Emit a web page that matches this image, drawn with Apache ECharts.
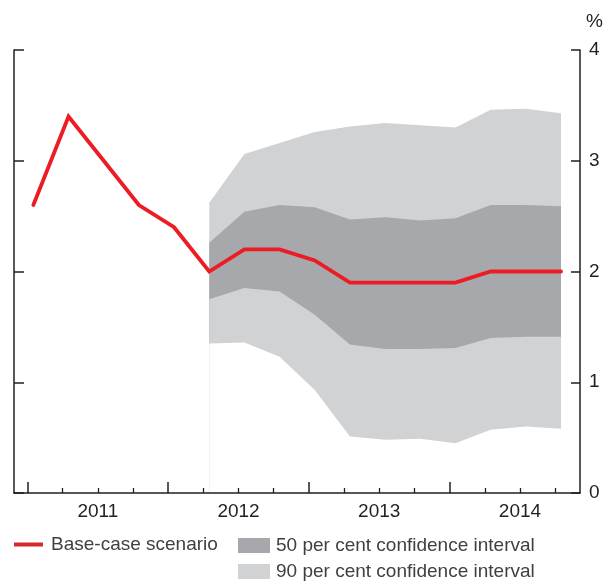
<!DOCTYPE html>
<html>
<head>
<meta charset="utf-8">
<script src="https://cdn.jsdelivr.net/npm/echarts@6/dist/echarts.min.js"></script>
<style>
  html, body { margin: 0; padding: 0; background: #fff; }
  #chart { width: 608px; height: 586px; }
</style>
</head>
<body>
<div id="chart"></div>
<script>
// Quarterly observations, 2011Q1 to 2014Q4
var periods = ['2011Q1','2011Q2','2011Q3','2011Q4','2012Q1','2012Q2','2012Q3','2012Q4',
               '2013Q1','2013Q2','2013Q3','2013Q4','2014Q1','2014Q2','2014Q3','2014Q4'];
var baseCase = [2.6, 3.4, 3.0, 2.6, 2.4, 2.0, 2.2, 2.2, 2.1, 1.9, 1.9, 1.9, 1.9, 2.0, 2.0, 2.0];

// Forecast intervals start in 2012Q2
var bandPeriods = ['2012Q2','2012Q3','2012Q4','2013Q1','2013Q2','2013Q3','2013Q4',
                   '2014Q1','2014Q2','2014Q3','2014Q4'];
var upper90 = [2.62, 3.06, 3.16, 3.26, 3.31, 3.34, 3.32, 3.30, 3.46, 3.47, 3.43];
var upper50 = [2.26, 2.54, 2.60, 2.58, 2.47, 2.49, 2.46, 2.48, 2.60, 2.60, 2.59];
var lower50 = [1.75, 1.85, 1.82, 1.61, 1.34, 1.30, 1.30, 1.31, 1.40, 1.41, 1.41];
var lower90 = [1.35, 1.36, 1.23, 0.93, 0.51, 0.48, 0.49, 0.45, 0.57, 0.60, 0.58];

var years = ['2011', '2012', '2013', '2014'];
var yTicks = [0, 1, 2, 3, 4];

// x axis is measured in months from the start of 2011; each quarter is
// plotted at the middle of its first month
function monthPos(p) {
  var y = parseInt(p.slice(0, 4), 10) - 2011;
  var q = parseInt(p.slice(5), 10) - 1;
  return y * 12 + q * 3 + 0.5;
}
function pairs(ps, vals) {
  return ps.map(function (p, i) { return [monthPos(p), vals[i]]; });
}

var quarterStarts = [];
for (var m = 0; m < 48; m += 3) quarterStarts.push(m);
var yearStarts = quarterStarts.filter(function (m) { return m % 12 === 0; });
var minorStarts = quarterStarts.filter(function (m) { return m % 12 !== 0; });
var yearMids = years.map(function (y, i) { return i * 12 + 6; });

var FONT = '"Liberation Sans", Arial, Helvetica, sans-serif';
var INK = '#231f20';
var RED = '#ed1c24';
var DARK = '#a7a8ab';
var LIGHT = '#d1d2d4';
var LEGEND_TEXT = '#404040';

var chart = echarts.init(document.getElementById('chart'), null, { renderer: 'canvas' });

// Bands are painted from the outside in: each area fills down to the axis
// and the next one covers it, ending with white below the 90% lower bound.
function band(name, color, values) {
  return {
    name: name, type: 'line', symbol: 'none', silent: true,
    data: pairs(bandPeriods, values),
    lineStyle: { width: 0, opacity: 0 },
    itemStyle: { color: color },
    areaStyle: { color: color, opacity: 1, origin: 'start' },
    z: 1
  };
}

var legendText = { fontSize: 19, color: LEGEND_TEXT, fontFamily: FONT, lineHeight: 19 };

var option = {
  animation: false,
  textStyle: { fontFamily: FONT },
  grid: { left: 14, right: 28, top: 50, bottom: 93 },
  xAxis: [
    {
      type: 'value', min: -1.15, max: 47.12, z: 10,
      axisLine: { show: true, onZero: false, lineStyle: { color: INK, width: 1.5 } },
      axisTick: { show: true, inside: true, length: 5, customValues: minorStarts,
                  lineStyle: { color: INK, width: 1.3 } },
      axisLabel: {
        show: true, customValues: yearMids, margin: 9,
        fontSize: 19, color: INK, fontFamily: FONT,
        formatter: function (v) { return years[Math.round((v - 6) / 12)]; }
      },
      splitLine: { show: false }
    },
    {
      type: 'value', min: -1.15, max: 47.12, position: 'bottom', z: 10,
      axisLine: { show: false, onZero: false },
      axisTick: { show: true, inside: true, length: 11, customValues: yearStarts,
                  lineStyle: { color: INK, width: 1.5 } },
      axisLabel: { show: false },
      splitLine: { show: false }
    }
  ],
  yAxis: [
    {
      type: 'value', position: 'right', min: 0, max: 4, interval: 1, z: 10,
      axisLine: { show: true, onZero: false, lineStyle: { color: INK, width: 1.5 } },
      axisTick: { show: true, inside: true, length: 9, lineStyle: { color: INK, width: 1.5 } },
      axisLabel: { fontSize: 19, color: INK, margin: 9, fontFamily: FONT,
                   formatter: function (v) { return yTicks.indexOf(v) >= 0 ? String(v) : ''; } },
      splitLine: { show: false }
    },
    {
      type: 'value', position: 'left', min: 0, max: 4, interval: 1, z: 10,
      axisLine: { show: true, onZero: false, lineStyle: { color: INK, width: 1.5 } },
      axisTick: { show: true, inside: true, length: 10, lineStyle: { color: INK, width: 1.5 } },
      axisLabel: { show: false },
      splitLine: { show: false }
    }
  ],
  legend: [
    {
      left: 14, top: 535, padding: 0, itemWidth: 29, itemHeight: 4, icon: 'rect',
      textStyle: Object.assign({ padding: [0, 0, 0, 3] }, legendText),
      selectedMode: false,
      data: [{ name: 'Base-case scenario', itemStyle: { color: '#d42a2a' } }]
    },
    {
      left: 238, top: 536, padding: 0, itemWidth: 32, itemHeight: 15, icon: 'rect',
      textStyle: Object.assign({ padding: [0, 0, 0, 1] }, legendText),
      selectedMode: false,
      data: [{ name: '50 per cent confidence interval', itemStyle: { color: DARK } }]
    },
    {
      left: 238, top: 562, padding: 0, itemWidth: 32, itemHeight: 15, icon: 'rect',
      textStyle: Object.assign({ padding: [0, 0, 0, 1] }, legendText),
      selectedMode: false,
      data: [{ name: '90 per cent confidence interval', itemStyle: { color: LIGHT } }]
    }
  ],
  graphic: [
    { type: 'text', left: 586, top: 12, style: { text: '%', fontSize: 19, fill: INK, fontFamily: FONT } }
  ],
  series: [
    band('90 per cent confidence interval', LIGHT, upper90),
    band('50 per cent confidence interval', DARK, upper50),
    band('90 per cent confidence interval', LIGHT, lower50),
    band('_below', '#ffffff', lower90),
    {
      name: 'Base-case scenario', type: 'line', symbol: 'none', silent: true,
      data: pairs(periods, baseCase),
      lineStyle: { color: RED, width: 3.8, cap: 'round', join: 'miter' },
      itemStyle: { color: RED },
      z: 5
    }
  ]
};

chart.setOption(option);
</script>
</body>
</html>
